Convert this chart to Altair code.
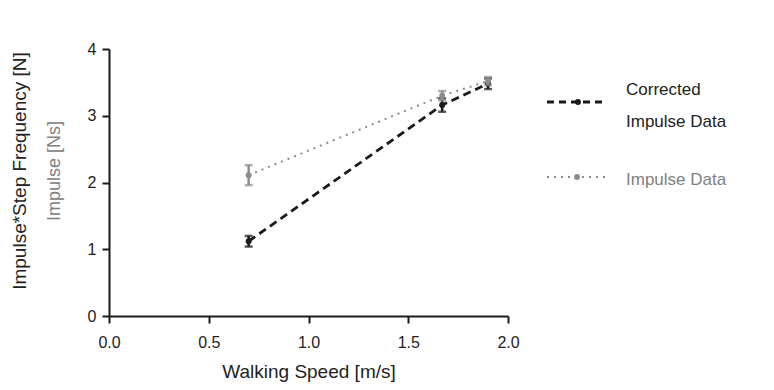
import altair as alt
import pandas as pd

speed = [0.70, 1.67, 1.90]
corrected = [1.12, 3.16, 3.48]
corrected_err = [0.08, 0.10, 0.08]
impulse = [2.11, 3.30, 3.52]
impulse_err = [0.15, 0.07, 0.06]

x_ticks = [0.0, 0.5, 1.0, 1.5, 2.0]
y_ticks = [0, 1, 2, 3, 4]

FONT = "Liberation Sans"
BLACK = "#1a1a1a"
GRAY = "#8c8c8c"

df_c = pd.DataFrame({"speed": speed, "val": corrected,
                     "lo": [v - e for v, e in zip(corrected, corrected_err)],
                     "hi": [v + e for v, e in zip(corrected, corrected_err)]})
df_i = pd.DataFrame({"speed": speed, "val": impulse,
                     "lo": [v - e for v, e in zip(impulse, impulse_err)],
                     "hi": [v + e for v, e in zip(impulse, impulse_err)]})

xs = alt.Scale(domain=[0, 2], nice=False)
ys = alt.Scale(domain=[0, 4], nice=False)

xax = alt.Axis(values=x_ticks, format=".1f", title="Walking Speed [m/s]", grid=False,
               domainColor=BLACK, domainWidth=2, tickColor=BLACK, tickWidth=2, tickSize=7,
               labelFont=FONT, labelFontSize=16, labelColor="#222", labelPadding=11,
               labelFlush=False,
               titleFont=FONT, titleFontSize=19, titleFontWeight="normal", titleColor="#222",
               titlePadding=12)
yax = alt.Axis(values=y_ticks, format="d", title=None, grid=False,
               domainColor=BLACK, domainWidth=2, tickColor=BLACK, tickWidth=2, tickSize=7,
               labelFont=FONT, labelFontSize=16, labelColor="#222", labelPadding=6,
               labelFlush=False)


def X(field):
    return alt.X(field, type="quantitative", scale=xs, axis=xax)


def Y(field):
    return alt.Y(field, type="quantitative", scale=ys, axis=yax)


def series(df, color, dash, width):
    base = alt.Chart(df)
    line = base.mark_line(color=color, strokeDash=dash, strokeWidth=width).encode(x=X("speed"), y=Y("val"))
    pts = base.mark_point(filled=True, color=color, size=35, opacity=1).encode(x=X("speed"), y=Y("val"))
    bars = base.mark_rule(color=color, strokeWidth=2.5).encode(x=X("speed"), y=Y("lo"), y2="hi:Q")
    cap_lo = base.mark_tick(color=color, thickness=2.5, size=8, orient="horizontal").encode(
        x=X("speed"), y=Y("lo"))
    cap_hi = base.mark_tick(color=color, thickness=2.5, size=8, orient="horizontal").encode(
        x=X("speed"), y=Y("hi"))
    return [line, bars, cap_lo, cap_hi, pts]


one = alt.Data(values=[{"a": 1}])

legend = [
    alt.Chart(one).mark_rule(color=BLACK, strokeDash=[7, 5], strokeWidth=2.8).encode(
        x=alt.value(438), x2=alt.value(498), y=alt.value(53)),
    alt.Chart(one).mark_point(filled=True, color=BLACK, size=35, opacity=1).encode(
        x=alt.value(469), y=alt.value(53)),
    alt.Chart(one).mark_rule(color=GRAY, strokeDash=[2, 5], strokeWidth=2).encode(
        x=alt.value(438), x2=alt.value(497), y=alt.value(128)),
    alt.Chart(one).mark_point(filled=True, color=GRAY, size=35, opacity=1).encode(
        x=alt.value(468), y=alt.value(128)),
    alt.Chart(one).mark_text(text="Corrected", align="left", baseline="middle", font=FONT,
                             fontSize=17, color="#222").encode(x=alt.value(517), y=alt.value(41)),
    alt.Chart(one).mark_text(text="Impulse Data", align="left", baseline="middle", font=FONT,
                             fontSize=17, color="#222").encode(x=alt.value(517), y=alt.value(73)),
    alt.Chart(one).mark_text(text="Impulse Data", align="left", baseline="middle", font=FONT,
                             fontSize=17, color="#808080").encode(x=alt.value(517), y=alt.value(131)),
    alt.Chart(one).mark_text(text="Impulse*Step Frequency [N]", align="center", baseline="middle",
                             angle=270, font=FONT, fontSize=19, color="#222").encode(
        x=alt.value(-89), y=alt.value(122)),
    alt.Chart(one).mark_text(text="Impulse [Ns]", align="center", baseline="middle",
                             angle=270, font=FONT, fontSize=18, color="#808080").encode(
        x=alt.value(-54), y=alt.value(122)),
]

layers = series(df_c, BLACK, [8, 5], 2.8) + series(df_i, GRAY, [2, 5], 2) + legend

chart = alt.layer(*layers).properties(
    width=399, height=267,
    autosize=alt.AutoSizeParams(type="none"),
    padding={"left": 101, "top": 41, "right": 258, "bottom": 66},
).configure_view(stroke=None)

chart.save("out.html", embed_options={"renderer": "svg", "actions": False})
